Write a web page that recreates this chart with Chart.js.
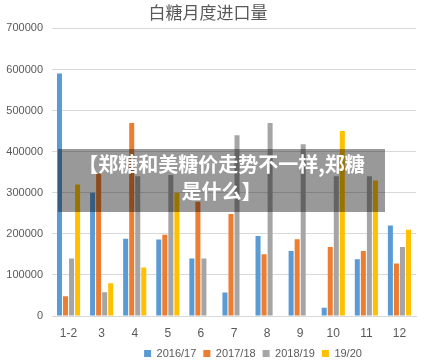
<!DOCTYPE html>
<html>
<head>
<meta charset="utf-8">
<script src="https://cdn.jsdelivr.net/npm/chart.js@4"></script>
<style>
  body { margin: 0; background: #fff; }
  #wrap { position: relative; width: 446px; height: 361px; }
  #banner {
    position: absolute; left: 58px; top: 149px; width: 327px; height: 63px;
    background: rgba(0, 0, 0, 0.4); color: #fff;
    font-family: "Noto Sans CJK SC", sans-serif; font-weight: bold;
    font-size: 20px; line-height: 27px; text-align: center;
    padding-top: 1px; box-sizing: border-box;
  }
</style>
</head>
<body>
<div id="wrap">
  <canvas id="myChart" width="446" height="361"></canvas>
  <div id="banner">【郑糖和美糖价走势不一样,郑糖<br>是什么】</div>
</div>
<script>
const months = ['1-2', '3', '4', '5', '6', '7', '8', '9', '10', '11', '12'];
const s2016 = [590000, 300000, 188000, 186000, 140000, 57000, 195000, 158000, 20000, 138000, 220000];
const s2017 = [48000, 347000, 470000, 198000, 278000, 248000, 150000, 187000, 168000, 158000, 128000];
const s2018 = [140000, 58000, 340000, 343000, 140000, 440000, 470000, 418000, 340000, 340000, 168000];
const s2019 = [320000, 80000, 118000, 300000, 0, 0, 0, 0, 450000, 330000, 210000];
const yTicks = [0, 100000, 200000, 300000, 400000, 500000, 600000, 700000];

Chart.defaults.font.family = '"Liberation Sans", Arial, sans-serif';
Chart.defaults.color = '#595959';

// legend in the picture sits a bit right of centre
const legendShift = {
    id: 'legendShift',
    afterLayout(chart) {
        const lg = chart.legend;
        lg.left += 45; lg.right += 45;
        lg.top -= 4; lg.bottom -= 4;
    }
};

const data = {
    labels: months,
    datasets: [
        { label: '2016/17', data: s2016, backgroundColor: '#5b9bd5' },
        { label: '2017/18', data: s2017, backgroundColor: '#ed7d31' },
        { label: '2018/19', data: s2018, backgroundColor: '#a5a5a5' },
        { label: '19/20', data: s2019, backgroundColor: '#ffc000' }
    ]
};

const config = {
    type: 'bar',
    data: data,
    plugins: [legendShift],
    options: {
        responsive: false,
        animation: false,
        categoryPercentage: 0.73,
        barPercentage: 0.83,
        layout: { padding: { left: 0, right: 30, top: 2, bottom: -12 } },
        plugins: {
            title: {
                display: true,
                text: '白糖月度进口量',
                color: '#595959',
                font: { family: '"Noto Sans CJK SC", sans-serif', size: 17, weight: 'normal' },
                padding: { top: 0, bottom: 6 }
            },
            legend: {
                position: 'bottom',
                labels: {
                    boxWidth: 7,
                    boxHeight: 7,
                    padding: 7,
                    font: { size: 11 }
                }
            },
            tooltip: { enabled: false }
        },
        scales: {
            x: {
                grid: { display: false, drawTicks: false },
                border: { color: '#d9d9d9' },
                ticks: { font: { size: 12 }, padding: 10 },
                afterFit: function (axis) { axis.height = 29; }
            },
            y: {
                min: 0,
                max: 700000,
                afterBuildTicks: function (axis) {
                    axis.ticks = yTicks.map(v => ({ value: v }));
                },
                afterFit: function (axis) { axis.width = 52; },
                grid: { color: '#d9d9d9', drawTicks: false },
                border: { display: false },
                ticks: {
                    font: { size: 11 },
                    padding: 9,
                    callback: function (v) { return String(v); }
                }
            }
        }
    }
};

const myChart = new Chart(document.getElementById('myChart'), config);
</script>
</body>
</html>
